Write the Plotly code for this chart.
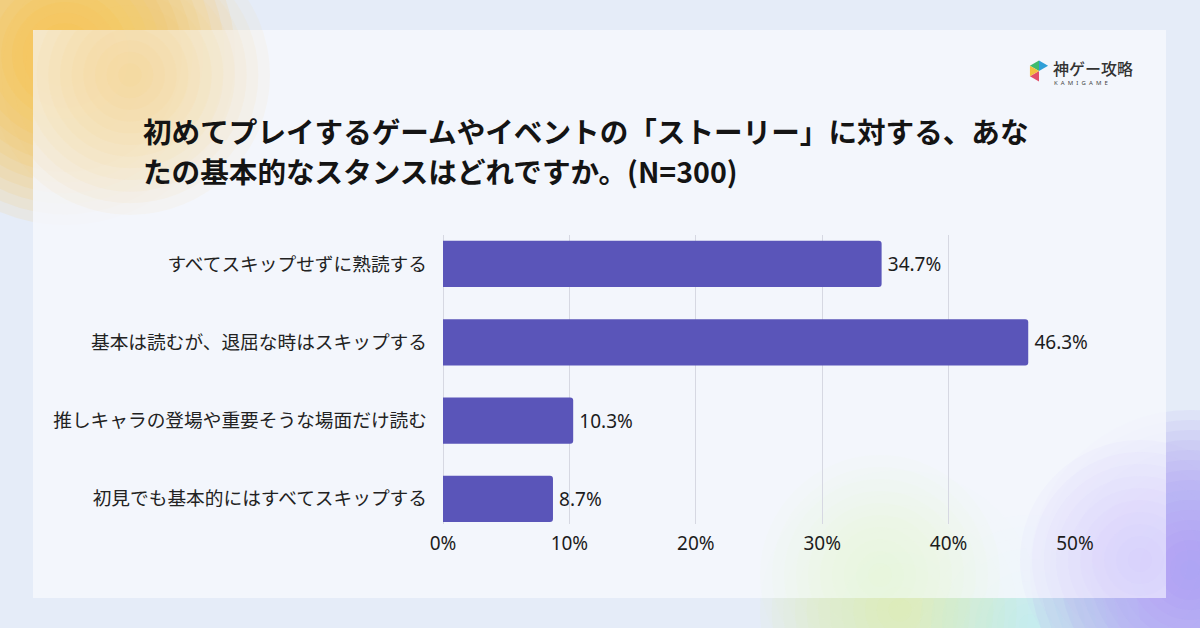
import math
import plotly.graph_objects as go

# ---- data ----
categories = [
    "すべてスキップせずに熟読する",
    "基本は読むが、退屈な時はスキップする",
    "推しキャラの登場や重要そうな場面だけ読む",
    "初見でも基本的にはすべてスキップする",
]
values = [34.7, 46.3, 10.3, 8.7]
x_ticks = [0, 10, 20, 30, 40, 50]
x_tick_labels = ["0%", "10%", "20%", "30%", "40%", "50%"]
title_line1 = "初めてプレイするゲームやイベントの「ストーリー」に対する、あな"
title_line2 = "たの基本的なスタンスはどれですか。(N=300)"

# ---- layout geometry (pixels) ----
W, H = 1200, 628
L, R, T, B = 443, 1075, 235, 524


def px(x):
    return (x - L) / (R - L)


def py(y):
    return (B - y) / (B - T)


JP = "Noto Sans CJK JP"
LAT = "Noto Sans, Noto Sans CJK JP"

fig = go.Figure()
fig.add_trace(go.Bar(
    y=categories, x=values, orientation="h",
    marker=dict(color="#5a55b9", line=dict(width=0)),
    text=[f"\u2009{v}%" for v in values], textposition="outside",
    textfont=dict(family=LAT, size=19, color="#1c1c1c"),
    cliponaxis=False, hoverinfo="skip",
))

shapes = []


def blob(cx, cy, r, color, n=14, op=0.06):
    for i in range(n):
        rr = r * (1 - i / n)
        shapes.append(dict(type="circle", xref="paper", yref="paper",
                           x0=px(cx - rr), x1=px(cx + rr), y0=py(cy + rr), y1=py(cy - rr),
                           fillcolor=color, opacity=op, line=dict(width=0), layer="below"))


# background blobs
blob(65, 55, 170, "#ffbe2e", n=16, op=0.09)
blob(1190, 570, 160, "#9f8ff5", n=16, op=0.09)
blob(900, 610, 140, "#e3f5a0", n=12, op=0.06)
blob(1030, 625, 110, "#aeeaf0", n=10, op=0.06)

# card
shapes.append(dict(type="rect", xref="paper", yref="paper",
                   x0=px(33), x1=px(1166), y0=py(598), y1=py(30),
                   fillcolor="#f5f7fd", opacity=0.86, line=dict(width=0), layer="below"))

# soft blobs showing inside card
blob(130, 75, 140, "#ffcf6e", n=12, op=0.06)
blob(1140, 560, 120, "#c4b4f8", n=10, op=0.055)
blob(880, 575, 120, "#eef7c4", n=10, op=0.045)

# logo icon
cx, cy, rad = 1039, 71, 10.5
cols = {150: "#3dba6f", 90: "#2f9fd8", -90: "#e2506b", -150: "#f3c13f"}
for a0, col in cols.items():
    a1 = a0 - 60
    pts = [(cx, cy),
           (cx + rad * math.cos(math.radians(a0)), cy - rad * math.sin(math.radians(a0))),
           (cx + rad * math.cos(math.radians(a1)), cy - rad * math.sin(math.radians(a1)))]
    path = "M " + " L ".join(f"{px(x)},{py(y)}" for x, y in pts) + " Z"
    shapes.append(dict(type="path", xref="paper", yref="paper", path=path,
                       fillcolor=col, line=dict(width=0), layer="above"))

annotations = [
    dict(text=title_line1, x=px(141), y=py(130), xref="paper", yref="paper",
         xanchor="left", yanchor="middle", showarrow=False,
         font=dict(family=JP, size=28.6, color="#141414", weight=700)),
    dict(text=title_line2, x=px(141), y=py(170), xref="paper", yref="paper",
         xanchor="left", yanchor="middle", showarrow=False,
         font=dict(family=JP, size=28.6, color="#141414", weight=700)),
    dict(text="神ゲー攻略", x=px(1051), y=py(68), xref="paper", yref="paper",
         xanchor="left", yanchor="middle", showarrow=False,
         font=dict(family=JP, size=16, color="#333333", weight=500)),
    dict(text="K  A  M  I  G  A  M  E", x=px(1052), y=py(83), xref="paper", yref="paper",
         xanchor="left", yanchor="middle", showarrow=False,
         font=dict(family=LAT, size=6, color="#444444")),
]

fig.update_layout(
    width=W, height=H,
    margin=dict(l=L, r=W - R, t=T, b=H - B, pad=0),
    paper_bgcolor="#e5ecf8", plot_bgcolor="rgba(0,0,0,0)",
    showlegend=False, bargap=0.41, barcornerradius=3,
    shapes=shapes, annotations=annotations,
    font=dict(family=LAT, color="#1c1c1c"),
    xaxis=dict(range=[0, 50], tickvals=x_ticks, ticktext=x_tick_labels,
               showgrid=True, gridcolor="#d6d8e2", gridwidth=1,
               zeroline=True, zerolinecolor="#d6d8e2", zerolinewidth=1,
               showline=False, ticks="", ticklabelstandoff=6,
               tickfont=dict(family=LAT, size=19, color="#1c1c1c"), fixedrange=True),
    yaxis=dict(categoryorder="array", categoryarray=categories,
               range=[3.32, -0.37], showgrid=False, zeroline=False, showline=False,
               ticks="", ticklabelstandoff=15,
               tickfont=dict(family=JP, size=18.7, color="#222222"), fixedrange=True),
)

fig.write_html("out.html", config={"displayModeBar": False})
